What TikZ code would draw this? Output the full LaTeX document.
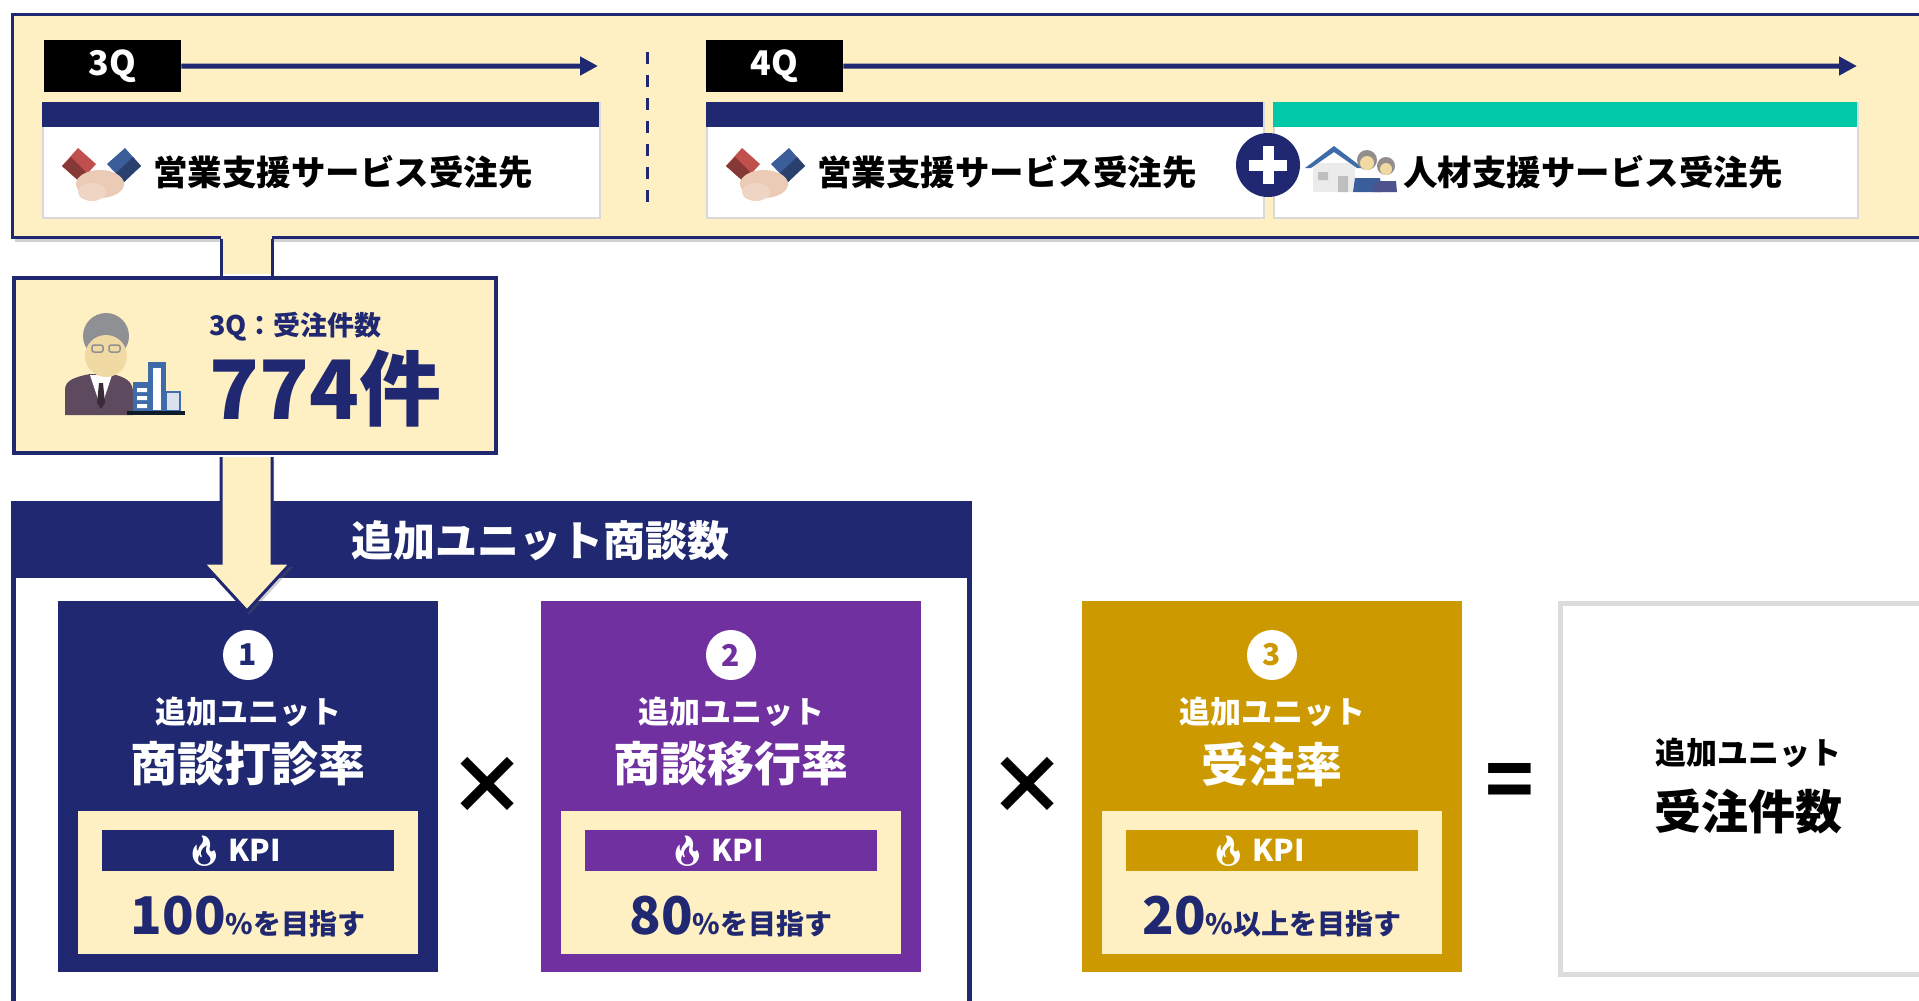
\documentclass[tikz,border=0pt]{standalone}
\usepackage{fontspec}
\setmainfont{Noto Sans CJK JP}
\newfontfamily\emoji{Noto Emoji}
\usetikzlibrary{arrows.meta,shadows,calc}

\definecolor{navy}{HTML}{1F2870}
\definecolor{plum}{HTML}{7030A0}
\definecolor{gold}{HTML}{CC9A00}
\definecolor{cream}{HTML}{FEF0C3}
\definecolor{mint}{HTML}{00C8A8}
\definecolor{cardgray}{HTML}{D9D9D9}
\definecolor{boxgray}{HTML}{DADDDC}
\definecolor{sleevered}{HTML}{C0504D}
\definecolor{sleeveblue}{HTML}{3B5D9A}
\definecolor{skin}{HTML}{EBCBB5}
\definecolor{face}{HTML}{F1D9A4}
\definecolor{hair}{HTML}{8E9094}
\definecolor{suit}{HTML}{5E4A5E}
\definecolor{tower}{HTML}{3F6BA8}

\newcommand\fs[1]{\fontsize{#1bp}{#1bp}\selectfont\bfseries}

\begin{document}
\begin{tikzpicture}[x=1bp,y=-1bp,>={Triangle[length=18bp,width=18bp]},
    tag/.style={fill=black,text=white,inner sep=0,minimum width=137bp,minimum height=52bp,anchor=north west,font=\fs{34}},
    card/.style={draw=cardgray,line width=2bp,fill=white,inner sep=0,minimum height=115bp,anchor=north west},
    cardhead/.style={inner sep=0,minimum height=25bp,anchor=north west},
    cardtext/.style={anchor=west,inner sep=0,font=\fs{34.5}},
    unit/.style={inner sep=0,minimum width=380bp,minimum height=371bp,anchor=north west},
    shade/.style={drop shadow={shadow xshift=2bp,shadow yshift=-4bp,opacity=.3,fill=black!60}}]
  \useasboundingbox (0,0) rectangle (1919,1000);

  % quarter bar across the top
  \node[draw=navy,fill=cream,line width=3bp,inner sep=0,minimum width=1940bp,minimum height=223bp,anchor=north west,shade] (qbar) at (11,13) {};

  % 3Q timeline
  \node[tag] (t3) at (44,40) {3Q};
  \coordinate (end3) at (598,66);
  \draw[->,navy,line width=5bp] (t3.east) -- (end3);
  \coordinate (dashT) at (647,52);
  \coordinate (dashB) at (647,205);
  \draw[navy,line width=3bp,dash pattern=on 12bp off 11bp] (dashT) -- (dashB);

  % 4Q timeline
  \node[tag] (t4) at (706,40) {4Q};
  \coordinate (end4) at (1857,66);
  \draw[->,navy,line width=5bp] (t4.east) -- (end4);

  % customer cards
  \node[card,minimum width=557bp] (c3) at (42,102) {};
  \node[cardhead,fill=navy,minimum width=557bp] (h3) at (42,102) {};
  \node[cardtext] (l3) at (153,172) {営業支援サービス受注先};
  \node[card,minimum width=557bp] (c4) at (706,102) {};
  \node[cardhead,fill=navy,minimum width=557bp] (h4) at (706,102) {};
  \node[cardtext] (l4) at (817,172) {営業支援サービス受注先};
  \node[card,minimum width=584bp] (c5) at (1273,102) {};
  \node[cardhead,fill=mint,minimum width=584bp] (h5) at (1273,102) {};
  \node[cardtext] (l5) at (1403,172) {人材支援サービス受注先};

  % plus between the two 4Q cards
  \node[circle,fill=navy,minimum size=64bp,inner sep=0] (plus) at (1268,165) {};
  \draw[white,line width=11bp] ([xshift=-19bp]plus.center) -- ([xshift=19bp]plus.center)
                               ([yshift=-19bp]plus.center) -- ([yshift=19bp]plus.center);

  % handshake icons
  \foreach \hx in {62,726}{
    \begin{scope}[shift={(\hx,148)}]
      \fill[sleevered] (0,18) -- (16,0) -- (34,16) -- (18,34) -- cycle;
      \fill[sleevered!70!black] (0,18) -- (9,9) -- (26,26) -- (18,34) -- cycle;
      \fill[sleeveblue] (45,16) -- (63,0) -- (79,18) -- (62,34) -- cycle;
      \fill[sleeveblue!70!black] (54,25) -- (71,9) -- (79,18) -- (62,34) -- cycle;
      \fill[skin] (38,36) ellipse [x radius=24, y radius=14];
      \fill[skin!80!white] (30,44) ellipse [x radius=14, y radius=9];
    \end{scope}
  }

  % house with staff icon
  \fill[black!8] (1313,163) rectangle (1355,192);
  \fill[tower] (1305,168) -- (1334,146) -- (1363,168) -- (1357,168) -- (1334,152) -- (1311,168) -- cycle;
  \fill[black!25] (1318,172) rectangle (1328,180) (1338,176) rectangle (1348,192);
  \fill[hair!90!brown] (1367,160) circle [radius=10];
  \fill[face] (1367,163) circle [radius=7];
  \fill[sleeveblue] (1353,192) -- (1355,178) -- (1380,178) -- (1382,192) -- cycle;
  \fill[hair!90!brown] (1386,166) circle [radius=9];
  \fill[face] (1386,169) circle [radius=6];
  \fill[navy!80] (1373,192) -- (1375,181) -- (1396,181) -- (1397,192) -- cycle;

  % 3Q order count
  \node[draw=navy,fill=cream,line width=4bp,inner sep=0,minimum width=482bp,minimum height=175bp,anchor=north west] (cnt) at (12,276) {};
  \node[anchor=base west,text=navy,font=\fs{27},inner sep=0] (cntcap) at (209,335) {3Q：受注件数};
  \node[anchor=base west,text=navy,font=\fs{82},inner sep=0] (cntnum) at (209,419) {774件};

  % stem from the quarter bar down to the count box
  \coordinate (stemL) at (221,0);
  \coordinate (stemR) at (272,0);
  \fill[cream] ($(stemL |- qbar.south)+(0,-5)$) rectangle ($(stemR |- cnt.north)+(0,-2)$);
  \draw[navy,line width=3bp] (stemL |- qbar.south) -- (stemL |- cnt.north)
                             (stemR |- qbar.south) -- (stemR |- cnt.north);

  % manager with office icon
  \fill[suit] (65,415) -- (65,390) .. controls (65,380) and (75,377) .. (90,374) -- (112,374) .. controls (126,377) and (133,382) .. (133,392) -- (133,415) -- cycle;
  \fill[white] (90,375) -- (112,375) -- (101,408) -- cycle;
  \fill[suit!60!black] (99,383) -- (103,383) -- (105,403) -- (101,409) -- (97,403) -- cycle;
  \fill[hair] (106,336) circle [radius=23];
  \fill[face] (106,356) ellipse [x radius=21, y radius=21];
  \draw[hair,line width=1.5bp,rounded corners=2bp] (92,345) rectangle (103,352) (109,345) rectangle (120,352);
  \fill[tower] (148,362) rectangle (166,412);
  \fill[white] (153,368) rectangle (161,410);
  \fill[tower] (133,382) rectangle (150,412);
  \fill[white] (137,388) rectangle (147,392) (137,396) rectangle (147,400) (137,404) rectangle (147,408);
  \filldraw[fill=tower!20,draw=tower,line width=1.5bp] (166,392) rectangle (180,411);
  \fill[black!75!tower] (127,411) rectangle (185,415);

  % panel holding the three rates
  \node[draw=navy,fill=white,line width=5bp,inner sep=0,minimum width=956bp,minimum height=520bp,anchor=north west] (panel) at (11,501) {};
  \node[fill=navy,inner sep=0,minimum width=956bp,minimum height=77bp,anchor=north west] (phead) at (11,501) {};
  \node[text=white,font=\fs{42}] (ptitle) at (540,541) {追加ユニット商談数};

  % the three rates with their KPI
  \foreach \bx/\col/\n/\ttl/\pct/\rest in {58/navy/1/商談打診率/100/を目指す,541/plum/2/商談移行率/80/を目指す,1082/gold/3/受注率/20/以上を目指す}{
    \node[unit,fill=\col] (unit\n) at (\bx,601) {};
    \node[circle,fill=white,text=\col,minimum size=50bp,inner sep=0,font=\fs{30}] (num\n) at (\bx+190,655) {\n};
    \node[text=white,font=\fs{31},inner sep=0] (sub\n) at (\bx+190,712) {追加ユニット};
    \node[text=white,font=\fs{47},inner sep=0] (ttl\n) at (\bx+190,764) {\ttl};
    \node[fill=cream,inner sep=0,minimum width=340bp,minimum height=143bp,anchor=north west] (kpi\n) at (\bx+20,811) {};
    \node[fill=\col,inner sep=0,minimum width=292bp,minimum height=41bp] (bar\n) at (\bx+190,850) {};
    \node[text=white,inner sep=0,font=\fs{30}] (kpilbl\n) at (\bx+175,851) {{\emoji 🔥}\,KPI};
    \node[anchor=base,text=navy,inner sep=0] (val\n) at (\bx+190,934) {\fs{52}\pct\fs{28}\%\rest};
  }

  % operators between the rates
  \node[font=\fs{80}] (times1) at (487,786) {×};
  \node[font=\fs{80}] (times2) at (1027,786) {×};
  \node[font=\fs{80}] (equals) at (1510,786) {=};

  % resulting order count
  \node[draw=boxgray,fill=white,line width=5bp,inner sep=0,minimum width=380bp,minimum height=371bp,anchor=north west] (result) at (1558,601) {};
  \node[font=\fs{31}] (rsub) at (1748,753) {追加ユニット};
  \node[font=\fs{47}] (rttl) at (1748,812) {受注件数};

  % arrow from the count box into the first rate
  \coordinate (tip) at (247,611);
  \filldraw[fill=cream,draw=navy,line width=3bp,shade]
    ($(stemL |- cnt.south)+(0,2)$) -- (221,563) -- (203,563) -- (tip) -- (291,563) -- (272,563) -- ($(stemR |- cnt.south)+(0,2)$);
\end{tikzpicture}
\end{document}
